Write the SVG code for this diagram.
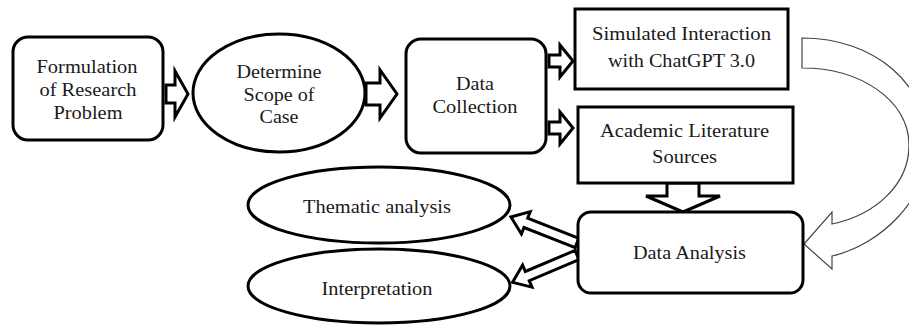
<svg xmlns="http://www.w3.org/2000/svg" width="909" height="325" viewBox="0 0 909 325">
<style>
.box{fill:#fff;stroke:#000;stroke-width:3}
.arr{fill:#fff;stroke:#000;stroke-width:3;stroke-linejoin:miter}
.thin{fill:#fff;stroke:#444;stroke-width:1.2}
.t18,.t19{font-family:'Liberation Serif',serif;fill:#1a1a1a;text-anchor:middle}
.t18{font-size:18px}
.t19{font-size:19px}
</style>
<rect width="909" height="325" fill="#fff"/>
<g id="connectors">
<path class="arr" d="M166,85 L175,85 L175,71 L188,94 L175,117 L175,103 L166,103 Z"/>
<path class="arr" d="M366,83 L380,83 L380,70 L397,94 L380,118 L380,105 L366,105 Z"/>
<path class="arr" d="M549,55 L560,55 L560,45 L573,61 L560,77 L560,67 L549,67 Z"/>
<path class="arr" d="M549,122 L560,122 L560,112 L573,128 L560,144 L560,134 L549,134 Z"/>
<path class="arr" d="M667,183 L699,183 L699,196 L720,196 L683,212 L646,196 L667,196 Z"/>
<path class="arr" transform="translate(577,243) rotate(201.5)" d="M0,-5 L55,-5 L55,-12 L71,0 L55,12 L55,5 L0,5 Z"/>
<path class="arr" transform="translate(577,255) rotate(157)" d="M0,-5 L54,-5 L54,-12 L70,0 L54,12 L54,5 L0,5 Z"/>
<path class="thin" d="M802,38 C875,38 928,85 928,145 C928,200 880,245 832,256 L832,269 L804,244 L832,212 L832,224 C875,215 909,185 909,145 C909,100 860,68 802,68 Z"/>
</g>
<g id="formulation">
<rect class="box" x="13" y="37" width="150" height="103" rx="15"/>
<text class="t18" x="87" y="73" textLength="101" lengthAdjust="spacingAndGlyphs">Formulation</text>
<text class="t18" x="88" y="96" textLength="97" lengthAdjust="spacingAndGlyphs">of Research</text>
<text class="t18" x="88" y="119" textLength="69" lengthAdjust="spacingAndGlyphs">Problem</text>
</g>
<g id="scope">
<ellipse class="box" cx="279" cy="93" rx="86" ry="59"/>
<text class="t18" x="279" y="78" textLength="85" lengthAdjust="spacingAndGlyphs">Determine</text>
<text class="t18" x="279" y="101" textLength="71" lengthAdjust="spacingAndGlyphs">Scope of</text>
<text class="t18" x="279" y="123" textLength="39" lengthAdjust="spacingAndGlyphs">Case</text>
</g>
<g id="collection">
<rect class="box" x="406" y="39" width="140" height="114" rx="15"/>
<text class="t18" x="475" y="90" textLength="38" lengthAdjust="spacingAndGlyphs">Data</text>
<text class="t18" x="475" y="113" textLength="85" lengthAdjust="spacingAndGlyphs">Collection</text>
</g>
<g id="simulated">
<rect class="box" x="575" y="9" width="213" height="80"/>
<text class="t18" x="681.5" y="40" textLength="179" lengthAdjust="spacingAndGlyphs">Simulated Interaction</text>
<text class="t18" x="681.5" y="67" textLength="147" lengthAdjust="spacingAndGlyphs">with ChatGPT 3.0</text>
</g>
<g id="academic">
<rect class="box" x="578" y="107" width="215" height="76"/>
<text class="t18" x="684.5" y="137" textLength="169" lengthAdjust="spacingAndGlyphs">Academic Literature</text>
<text class="t18" x="684.5" y="163" textLength="65" lengthAdjust="spacingAndGlyphs">Sources</text>
</g>
<g id="analysis">
<rect class="box" x="578" y="212" width="225" height="81" rx="13"/>
<text class="t19" x="689.5" y="259" textLength="113" lengthAdjust="spacingAndGlyphs">Data Analysis</text>
</g>
<g id="thematic">
<ellipse class="box" cx="379" cy="205" rx="131" ry="38"/>
<text class="t19" x="377" y="213" textLength="148" lengthAdjust="spacingAndGlyphs">Thematic analysis</text>
</g>
<g id="interpretation">
<ellipse class="box" cx="379" cy="286" rx="131" ry="37"/>
<text class="t19" x="377" y="295" textLength="111" lengthAdjust="spacingAndGlyphs">Interpretation</text>
</g>
</svg>
